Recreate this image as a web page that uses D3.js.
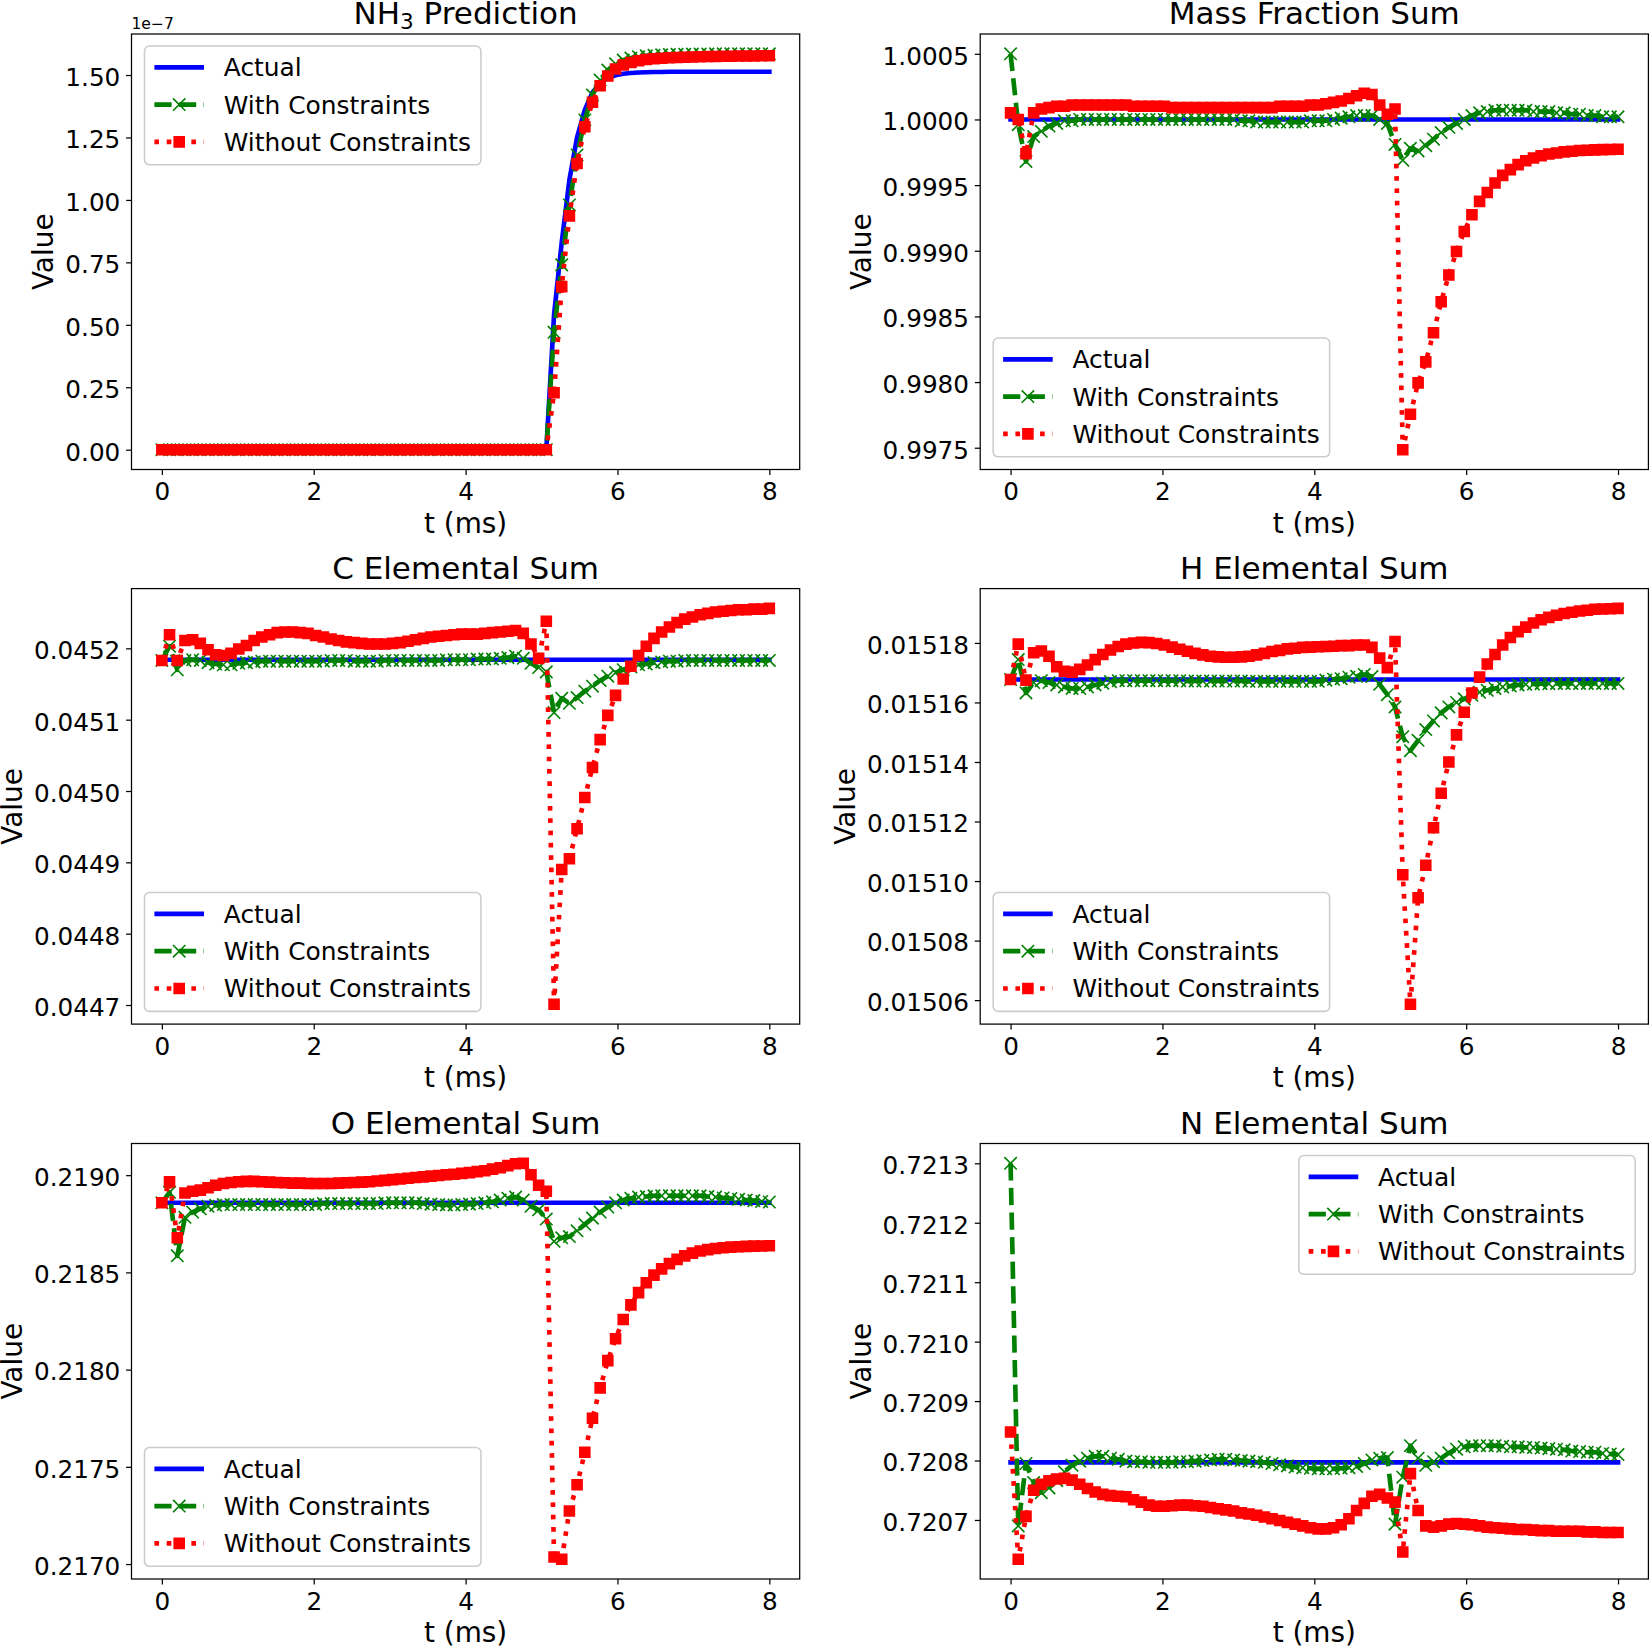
<!DOCTYPE html>
<html>
<head>
<meta charset="utf-8">
<script src="https://cdn.jsdelivr.net/npm/d3@7"></script>
<style>
  body { margin: 0; background: #fff; }
  text { font-family: "DejaVu Sans", sans-serif; fill: #000; }
</style>
</head>
<body>
<div id="chart"></div>
<script>
// time grid (ms), 80 samples
const tGrid = [
  0, 0.101, 0.203, 0.304, 0.405, 0.506, 0.608, 0.709, 0.810, 0.911,
  1.013, 1.114, 1.215, 1.316, 1.418, 1.519, 1.620, 1.722, 1.823, 1.924,
  2.025, 2.127, 2.228, 2.329, 2.430, 2.532, 2.633, 2.734, 2.835, 2.937,
  3.038, 3.139, 3.241, 3.342, 3.443, 3.544, 3.646, 3.747, 3.848, 3.949,
  4.051, 4.152, 4.253, 4.354, 4.456, 4.557, 4.658, 4.759, 4.861, 4.962,
  5.063, 5.165, 5.266, 5.367, 5.468, 5.570, 5.671, 5.772, 5.873, 5.975,
  6.076, 6.177, 6.278, 6.380, 6.481, 6.582, 6.684, 6.785, 6.886, 6.987,
  7.089, 7.190, 7.291, 7.392, 7.494, 7.595, 7.696, 7.797, 7.899, 8.000];
const tEnds = [0, 8];
const xTicks = [0, 2, 4, 6, 8];

// NH3 prediction, values in units of 1e-7
const nh3Actual = [
  0, 0, 0, 0, 0, 0, 0, 0, 0, 0,
  0, 0, 0, 0, 0, 0, 0, 0, 0, 0,
  0, 0, 0, 0, 0, 0, 0, 0, 0, 0,
  0, 0, 0, 0, 0, 0, 0, 0, 0, 0,
  0, 0, 0, 0, 0, 0, 0, 0, 0, 0,
  0, 0.54, 0.83, 1.08, 1.25, 1.36, 1.43, 1.467, 1.488, 1.499,
  1.505, 1.508, 1.510, 1.511, 1.512, 1.512, 1.513, 1.513, 1.513, 1.513,
  1.513, 1.513, 1.513, 1.513, 1.513, 1.513, 1.513, 1.513, 1.513, 1.513];
const nh3With = [
  0, 0, 0, 0, 0, 0, 0, 0, 0, 0,
  0, 0, 0, 0, 0, 0, 0, 0, 0, 0,
  0, 0, 0, 0, 0, 0, 0, 0, 0, 0,
  0, 0, 0, 0, 0, 0, 0, 0, 0, 0,
  0, 0, 0, 0, 0, 0, 0, 0, 0, 0,
  0, 0.47, 0.74, 0.98, 1.18, 1.32, 1.42, 1.48, 1.52, 1.545,
  1.56, 1.568, 1.573, 1.577, 1.579, 1.581, 1.582, 1.583, 1.583, 1.584,
  1.584, 1.584, 1.585, 1.585, 1.585, 1.585, 1.585, 1.585, 1.585, 1.585];
const nh3Without = [
  0, 0, 0, 0, 0, 0, 0, 0, 0, 0,
  0, 0, 0, 0, 0, 0, 0, 0, 0, 0,
  0, 0, 0, 0, 0, 0, 0, 0, 0, 0,
  0, 0, 0, 0, 0, 0, 0, 0, 0, 0,
  0, 0, 0, 0, 0, 0, 0, 0, 0, 0,
  0, 0.228, 0.653, 0.936, 1.146, 1.293, 1.391, 1.457, 1.496, 1.524,
  1.540, 1.550, 1.557, 1.562, 1.565, 1.567, 1.569, 1.570, 1.571, 1.572,
  1.573, 1.574, 1.574, 1.575, 1.575, 1.576, 1.576, 1.576, 1.577, 1.577];
const nh3Ticks = [0, 0.25, 0.5, 0.75, 1.0, 1.25, 1.5];

// Mass fraction sum
const massActual = [1.0, 1.0];
const massWith = [
  1.0005, 0.99996, 0.99968, 0.99987, 0.99991, 0.99995, 0.99997, 0.99999, 0.99999, 1.0,
  1.0, 1.0, 1.0, 1.0, 1.0, 1.0, 1.0, 1.0, 1.0, 1.0,
  1.0, 1.0, 1.0, 1.0, 1.0, 1.0, 1.0, 1.0, 1.0, 1.0,
  0.99999, 0.99999, 0.99998, 0.99998, 0.99998, 0.99998, 0.99998, 0.99998, 0.99998, 0.99999,
  0.99999, 0.99999, 1.0, 1.00001, 1.00002, 1.00003, 1.00003, 1.00003, 1.0, 0.99997,
  0.99981, 0.99969, 0.99978, 0.99976, 0.9998, 0.99985, 0.9999, 0.99994, 0.99997, 1.0,
  1.00003, 1.00005, 1.00006, 1.00007, 1.00007, 1.00007, 1.00007, 1.00007, 1.00006, 1.00006,
  1.00006, 1.00005, 1.00005, 1.00004, 1.00004, 1.00003, 1.00003, 1.00002, 1.00002, 1.00002];
const massWithout = [
  1.00005, 1.0, 0.99974, 1.00005, 1.00008, 1.00009, 1.0001, 1.0001, 1.00011, 1.00011,
  1.00011, 1.00011, 1.00011, 1.00011, 1.00011, 1.00011, 1.0001, 1.0001, 1.0001, 1.0001,
  1.0001, 1.00009, 1.00009, 1.00009, 1.00009, 1.00009, 1.00009, 1.00009, 1.00009, 1.00009,
  1.00009, 1.00009, 1.00009, 1.00009, 1.00009, 1.0001, 1.0001, 1.0001, 1.0001, 1.00011,
  1.00011, 1.00012, 1.00013, 1.00014, 1.00016, 1.00018, 1.0002, 1.00019, 1.00011, 1.00004,
  1.00008, 0.997485, 0.997755, 0.997994, 0.998154, 0.998376, 0.998612, 0.998816, 0.998994, 0.999147,
  0.999274, 0.999376, 0.999444, 0.999516, 0.999574, 0.999618, 0.999656, 0.999686, 0.999707, 0.999724,
  0.999737, 0.999745, 0.999753, 0.999758, 0.999763, 0.999766, 0.999768, 0.99977, 0.999771, 0.999773];
const massTicks = [0.9975, 0.998, 0.9985, 0.999, 0.9995, 1.0, 1.0005];

// C elemental sum
const cActual = [0.045184, 0.045184];
const cWith = [
  0.045183, 0.045203, 0.04517, 0.045183, 0.045184, 0.045183, 0.04518, 0.045178, 0.045177, 0.045177,
  0.045179, 0.04518, 0.045181, 0.045182, 0.045182, 0.045182, 0.045182, 0.045182, 0.045182, 0.045182,
  0.045182, 0.045182, 0.045183, 0.045183, 0.045183, 0.045182, 0.045182, 0.045182, 0.045182, 0.045183,
  0.045183, 0.045183, 0.045183, 0.045183, 0.045183, 0.045183, 0.045183, 0.045184, 0.045184, 0.045184,
  0.045184, 0.045185, 0.045185, 0.045185, 0.045186, 0.045187, 0.045189, 0.045186, 0.045179, 0.045173,
  0.045167, 0.04511, 0.04513, 0.045123, 0.045131, 0.04514, 0.045147, 0.045155, 0.045161, 0.045166,
  0.04517, 0.045174, 0.045177, 0.045178, 0.04518, 0.045181, 0.045182, 0.045182, 0.045183, 0.045183,
  0.045183, 0.045183, 0.045183, 0.045183, 0.045183, 0.045183, 0.045183, 0.045183, 0.045183, 0.045183];
const cWithout = [
  0.045183, 0.045219, 0.045183, 0.045211, 0.045212, 0.045207, 0.045198, 0.045191, 0.04519, 0.045193,
  0.045199, 0.045204, 0.045211, 0.045216, 0.045219, 0.045222, 0.045223, 0.045223, 0.045222, 0.045221,
  0.045218, 0.045216, 0.045213, 0.045211, 0.045209, 0.045208, 0.045207, 0.045206, 0.045206, 0.045206,
  0.045207, 0.045208, 0.04521, 0.045212, 0.045214, 0.045216, 0.045217, 0.045218, 0.045219, 0.04522,
  0.04522, 0.04522, 0.045221, 0.045222, 0.045223, 0.045224, 0.045225, 0.045221, 0.045206, 0.045186,
  0.045238, 0.044701, 0.04489, 0.044905, 0.044947, 0.044991, 0.045033, 0.045072, 0.045106, 0.045134,
  0.045157, 0.045175, 0.04519, 0.045203, 0.045214, 0.045223, 0.04523, 0.045236, 0.045241, 0.045244,
  0.045247, 0.045249, 0.045251, 0.045252, 0.045253, 0.045254, 0.045254, 0.045255, 0.045255, 0.045256];
const cTicks = [0.0447, 0.0448, 0.0449, 0.045, 0.0451, 0.0452];

// H elemental sum
const hActual = [0.0151677, 0.0151677];
const hWith = [
  0.0151677, 0.0151744, 0.0151632, 0.0151667, 0.0151673, 0.0151667, 0.0151659, 0.0151652, 0.0151647, 0.0151647,
  0.0151652, 0.0151659, 0.0151665, 0.015167, 0.0151673, 0.0151673, 0.0151673, 0.0151673, 0.0151673, 0.0151673,
  0.0151673, 0.0151673, 0.0151673, 0.0151672, 0.0151672, 0.0151672, 0.0151672, 0.0151672, 0.0151672, 0.0151672,
  0.0151672, 0.0151671, 0.0151671, 0.0151671, 0.0151671, 0.0151671, 0.0151671, 0.0151671, 0.0151671, 0.0151671,
  0.0151671, 0.0151675, 0.0151678, 0.015168, 0.0151685, 0.0151688, 0.0151694, 0.0151687, 0.0151661, 0.0151626,
  0.0151585, 0.0151485, 0.0151438, 0.0151473, 0.0151509, 0.0151538, 0.0151565, 0.0151585, 0.01516, 0.0151612,
  0.0151624, 0.0151634, 0.0151641, 0.0151647, 0.0151652, 0.0151655, 0.0151659, 0.0151661, 0.0151662, 0.0151663,
  0.0151663, 0.0151664, 0.0151664, 0.0151664, 0.0151664, 0.0151664, 0.0151664, 0.0151664, 0.0151664, 0.0151664];
const hWithout = [
  0.0151677, 0.0151796, 0.0151675, 0.0151767, 0.0151773, 0.0151755, 0.015172, 0.0151705, 0.0151702, 0.0151711,
  0.0151726, 0.0151744, 0.0151761, 0.0151776, 0.0151788, 0.0151796, 0.01518, 0.0151802, 0.0151801, 0.0151798,
  0.0151793, 0.0151786, 0.0151779, 0.0151772, 0.0151765, 0.015176, 0.0151755, 0.0151753, 0.0151752, 0.0151752,
  0.0151753, 0.0151755, 0.015176, 0.0151765, 0.0151771, 0.0151775, 0.015178, 0.0151782, 0.0151785, 0.0151786,
  0.0151787, 0.0151788, 0.0151789, 0.0151791, 0.0151791, 0.0151793, 0.0151793, 0.0151785, 0.0151749, 0.0151717,
  0.0151805, 0.0151021, 0.0150586, 0.0150944, 0.0151053, 0.0151179, 0.0151295, 0.01514, 0.0151491, 0.0151567,
  0.0151632, 0.0151685, 0.0151729, 0.0151761, 0.0151793, 0.0151818, 0.0151838, 0.0151853, 0.0151867, 0.0151878,
  0.0151886, 0.0151893, 0.0151899, 0.0151903, 0.0151907, 0.015191, 0.0151913, 0.0151914, 0.0151915, 0.0151916];
const hTicks = [0.01506, 0.01508, 0.0151, 0.01512, 0.01514, 0.01516, 0.01518];

// O elemental sum
const oActual = [0.218858, 0.218858];
const oWith = [
  0.218858, 0.218912, 0.218585, 0.218783, 0.21881, 0.218827, 0.21884, 0.218845, 0.218849, 0.218849,
  0.218849, 0.218849, 0.218849, 0.218849, 0.218849, 0.218849, 0.218849, 0.218849, 0.218849, 0.218849,
  0.218849, 0.218854, 0.218854, 0.218854, 0.218854, 0.218854, 0.218854, 0.218854, 0.218854, 0.218858,
  0.218858, 0.218858, 0.218858, 0.218858, 0.218854, 0.218851, 0.218849, 0.218847, 0.218847, 0.218849,
  0.218851, 0.218854, 0.218858, 0.218863, 0.218872, 0.218881, 0.218887, 0.218872, 0.21884, 0.218822,
  0.218774, 0.21866, 0.218678, 0.218684, 0.218714, 0.218747, 0.218779, 0.21881, 0.218836, 0.218858,
  0.218872, 0.218881, 0.218887, 0.21889, 0.218894, 0.218894, 0.218894, 0.218894, 0.218894, 0.218894,
  0.218894, 0.21889, 0.218887, 0.218883, 0.21888, 0.218876, 0.218872, 0.218869, 0.218865, 0.218862];
const oWithout = [
  0.218858, 0.218966, 0.218678, 0.218908, 0.218917, 0.218923, 0.218935, 0.218948, 0.218957, 0.218962,
  0.218966, 0.218968, 0.218968, 0.218966, 0.218964, 0.218962, 0.218961, 0.218959, 0.218959, 0.218957,
  0.218957, 0.218957, 0.218957, 0.218959, 0.218961, 0.218962, 0.218964, 0.218966, 0.21897, 0.218973,
  0.218977, 0.21898, 0.218984, 0.218988, 0.218991, 0.218995, 0.218998, 0.219002, 0.219005, 0.219009,
  0.219013, 0.219018, 0.219023, 0.219031, 0.219038, 0.219049, 0.219059, 0.219061, 0.219002, 0.218948,
  0.218917, 0.217036, 0.217025, 0.217273, 0.217408, 0.217575, 0.21775, 0.217906, 0.218046, 0.218159,
  0.218258, 0.218333, 0.218396, 0.218447, 0.218486, 0.218518, 0.218545, 0.218567, 0.218585, 0.218599,
  0.21861, 0.218617, 0.218623, 0.218627, 0.21863, 0.218632, 0.218634, 0.218635, 0.218636, 0.218637];
const oTicks = [0.217, 0.2175, 0.218, 0.2185, 0.219];

// N elemental sum
const nActual = [0.720797, 0.720797];
const nWith = [
  0.7213, 0.72069, 0.720795, 0.720763, 0.720746, 0.720754, 0.720766, 0.720781, 0.720792, 0.720799,
  0.720804, 0.720807, 0.720807, 0.720804, 0.720802, 0.720799, 0.720798, 0.720798, 0.720797, 0.720797,
  0.720797, 0.720797, 0.720798, 0.720798, 0.720799, 0.7208, 0.720801, 0.720802, 0.720802, 0.720801,
  0.7208, 0.720799, 0.720798, 0.720797, 0.720795, 0.720793, 0.720791, 0.720789, 0.720788, 0.720787,
  0.720786, 0.720786, 0.720786, 0.720787, 0.720788, 0.72079, 0.720795, 0.720801, 0.720804, 0.720805,
  0.720693, 0.720772, 0.720825, 0.720804, 0.720792, 0.720798, 0.720804, 0.720813, 0.720819, 0.720823,
  0.720825, 0.720825, 0.720825, 0.720825, 0.720824, 0.720823, 0.720823, 0.720822, 0.720822, 0.720821,
  0.72082, 0.720819, 0.720818, 0.720816, 0.720815, 0.720814, 0.720814, 0.720812, 0.720811, 0.72081];
const nWithout = [
  0.720848, 0.720634, 0.720706, 0.72075, 0.72076, 0.720766, 0.720769, 0.72077, 0.720767, 0.72076,
  0.720753, 0.720747, 0.720743, 0.720741, 0.72074, 0.720739, 0.720734, 0.72073, 0.720725, 0.720723,
  0.720723, 0.720724, 0.720725, 0.720725, 0.720724, 0.720723, 0.720721, 0.720719, 0.720717, 0.720715,
  0.720712, 0.72071, 0.720708, 0.720705, 0.720702, 0.720699, 0.720696, 0.720693, 0.72069, 0.720687,
  0.720685, 0.720685, 0.720687, 0.720692, 0.720702, 0.720716, 0.720728, 0.72074, 0.720743, 0.720737,
  0.72073, 0.720646, 0.720778, 0.720716, 0.72069, 0.720688, 0.72069, 0.720693, 0.720694, 0.720693,
  0.720692, 0.72069, 0.720688, 0.720687, 0.720686, 0.720685, 0.720684, 0.720684, 0.720683, 0.720682,
  0.720682, 0.720681, 0.720681, 0.720681, 0.720681, 0.72068, 0.72068, 0.720679, 0.720679, 0.720679];
const nTicks = [0.7207, 0.7208, 0.7209, 0.721, 0.7211, 0.7212, 0.7213];

const seriesNames = ["Actual", "With Constraints", "Without Constraints"];

// Layout
const W = 1650, H = 1646;
const colLeft = [131.5, 980.2], rowTop = [34, 588.6, 1143.5];
const pw = 668.2, ph = 435.5;
const LW = 4.65, SQ = 10, XH = 6.2, MEW = 1.6;
const tickFont = 24.7, legFont = 24.9, labelFont = 27.9, titleFont = 31;
const styles = [
  { color: "#0000ff", dash: null, cap: "square", marker: null },
  { color: "#008000", dash: "17.2,7.4", cap: "butt", marker: "x" },
  { color: "#ff0000", dash: "4.65,7.67", cap: "butt", marker: "s" }
];

const panels = [
  { title: ["NH", "3", " Prediction"], actualT: tGrid, series: [nh3Actual, nh3With, nh3Without],
    ticks: nh3Ticks, fmt: d3.format(".2f"), legend: "ul", offset: "1e\u22127" },
  { title: ["Mass Fraction Sum"], actualT: tEnds, series: [massActual, massWith, massWithout],
    ticks: massTicks, fmt: d3.format(".4f"), legend: "ll" },
  { title: ["C Elemental Sum"], actualT: tEnds, series: [cActual, cWith, cWithout],
    ticks: cTicks, fmt: d3.format(".4f"), legend: "ll" },
  { title: ["H Elemental Sum"], actualT: tEnds, series: [hActual, hWith, hWithout],
    ticks: hTicks, fmt: d3.format(".5f"), legend: "ll" },
  { title: ["O Elemental Sum"], actualT: tEnds, series: [oActual, oWith, oWithout],
    ticks: oTicks, fmt: d3.format(".4f"), legend: "ll" },
  { title: ["N Elemental Sum"], actualT: tEnds, series: [nActual, nWith, nWithout],
    ticks: nTicks, fmt: d3.format(".4f"), legend: "ur" }
];

const svg = d3.select("#chart").append("svg")
    .attr("width", W)
    .attr("height", H)
    .style("background", "#fff");

function markerPath(kind, px, py) {
  if (kind === "x") {
    const h = XH;
    return `M${px - h},${py - h}L${px + h},${py + h}M${px - h},${py + h}L${px + h},${py - h}`;
  }
  const h = SQ / 2;
  return `M${px - h},${py - h}H${px + h}V${py + h}H${px - h}Z`;
}

function drawLine(g, pts, st) {
  g.append("path")
      .attr("d", d3.line()(pts))
      .attr("fill", "none")
      .attr("stroke", st.color)
      .attr("stroke-width", LW)
      .attr("stroke-linecap", st.cap)
      .attr("stroke-linejoin", "round")
      .attr("stroke-dasharray", st.dash);
  if (st.marker) {
    g.append("g").selectAll("path")
      .data(pts)
      .join("path")
        .attr("d", d => markerPath(st.marker, d[0], d[1]))
        .attr("fill", st.marker === "s" ? st.color : "none")
        .attr("stroke", st.color)
        .attr("stroke-width", MEW)
        .attr("stroke-linejoin", "miter");
  }
}

const [tMin, tMax] = d3.extent(tGrid);
const tPad = (tMax - tMin) * 0.05;

panels.forEach((p, k) => {
  const left = colLeft[k % 2], top = rowTop[Math.floor(k / 2)];
  const g = svg.append("g").attr("transform", `translate(${left},${top})`);

  const all = p.series.flat();
  const [lo, hi] = d3.extent(all);
  const pad = (hi - lo) * 0.05;

  const x = d3.scaleLinear().domain([tMin - tPad, tMax + tPad]).range([0, pw]);
  const y = d3.scaleLinear().domain([lo - pad, hi + pad]).range([ph, 0]);

  // series: Actual, With, Without (drawn in that order)
  p.series.forEach((vals, s) => {
    const ts = s === 0 ? p.actualT : tGrid;
    const pts = ts.map((t, i) => [x(t), y(vals[i])]);
    drawLine(g, pts, styles[s]);
  });

  // frame
  g.append("rect")
      .attr("width", pw).attr("height", ph)
      .attr("fill", "none").attr("stroke", "#000").attr("stroke-width", 1.24);

  // axes
  const xAxis = g.append("g")
      .attr("transform", `translate(0,${ph})`)
      .call(d3.axisBottom(x).tickValues(xTicks).tickFormat(d3.format("d")).tickSize(5.4).tickPadding(8));
  const yAxis = g.append("g")
      .call(d3.axisLeft(y).tickValues(p.ticks).tickFormat(p.fmt).tickSize(5.4).tickPadding(5.8));
  [xAxis, yAxis].forEach(a => {
    a.select(".domain").remove();
    a.selectAll("line").attr("stroke", "#000").attr("stroke-width", 1.24);
    a.selectAll("text").attr("font-family", "DejaVu Sans").attr("font-size", tickFont).attr("fill", "#000");
  });
  yAxis.selectAll("text").attr("dy", "0.42em");

  // offset text
  if (p.offset) {
    g.append("text").attr("x", 0).attr("y", -5).attr("font-size", 15.5).text(p.offset);
  }

  // title
  const title = g.append("text")
      .attr("x", pw / 2).attr("y", -10)
      .attr("text-anchor", "middle")
      .attr("font-size", titleFont);
  if (p.title.length === 3) {
    title.append("tspan").text(p.title[0]);
    title.append("tspan").attr("dy", 4.5).attr("font-size", 21.5).text(p.title[1]);
    title.append("tspan").attr("dy", -4.5).text(p.title[2]);
  } else {
    title.text(p.title[0]);
  }

  // axis labels
  g.append("text")
      .attr("x", pw / 2).attr("y", ph + 63)
      .attr("text-anchor", "middle")
      .attr("font-size", labelFont)
      .text("t (ms)");
  const maxW = d3.max(yAxis.selectAll("text").nodes(), n => n.getComputedTextLength());
  g.append("text")
      .attr("transform", `translate(${-(5.4 + 5.8 + maxW + 12)},${ph / 2}) rotate(-90)`)
      .attr("text-anchor", "middle")
      .attr("font-size", labelFont)
      .text("Value");

  // legend
  const legH = 118.8, rowGap = 37.3;
  const leg = g.append("g");
  const box = leg.append("rect")
      .attr("fill", "#fff").attr("fill-opacity", 0.8)
      .attr("stroke", "#cccccc").attr("stroke-width", 1.55)
      .attr("rx", 4.9).attr("ry", 4.9)
      .attr("height", legH);
  let textW = 0;
  seriesNames.forEach((name, s) => {
    const cy = 21.3 + rowGap * s;
    const st = styles[s];
    leg.append("line")
        .attr("x1", 9.9).attr("x2", 59.5).attr("y1", cy).attr("y2", cy)
        .attr("stroke", st.color).attr("stroke-width", LW)
        .attr("stroke-linecap", st.cap === "square" ? "butt" : st.cap)
        .attr("stroke-dasharray", st.dash);
    if (st.marker) {
      leg.append("path")
          .attr("d", markerPath(st.marker, 34.7, cy))
          .attr("fill", st.marker === "s" ? st.color : "none")
          .attr("stroke", st.color).attr("stroke-width", MEW);
    }
    const t = leg.append("text")
        .attr("x", 79.3).attr("y", cy).attr("dy", "0.36em")
        .attr("font-size", legFont)
        .text(name);
    textW = Math.max(textW, t.node().getComputedTextLength());
  });
  const legW = 79.3 + textW + 9.9;
  box.attr("width", legW);
  let lx = 13, ly = 12;
  if (p.legend === "ll") ly = ph - 12.7 - legH;
  if (p.legend === "ur") lx = pw - 13.2 - legW;
  leg.attr("transform", `translate(${lx},${ly})`);
});
</script>
</body>
</html>
